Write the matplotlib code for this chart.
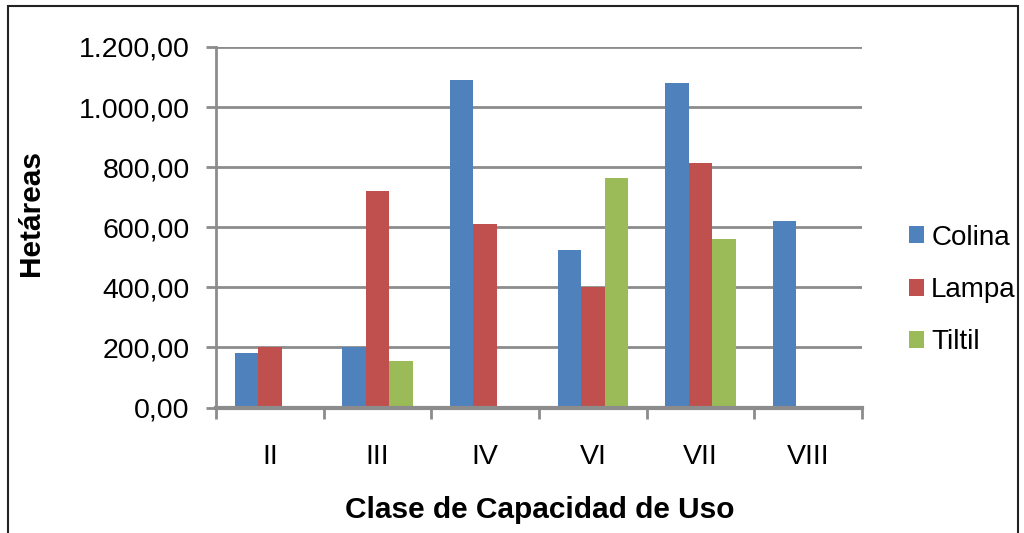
import matplotlib
matplotlib.use("Agg")
import matplotlib.pyplot as plt
from matplotlib.patches import Rectangle
from matplotlib.ticker import FuncFormatter
import numpy as np

plt.rcParams['font.family'] = ['Liberation Sans', 'DejaVu Sans']

clases = ["II", "III", "IV", "VI", "VII", "VIII"]
colina = [180, 200, 1091, 525, 1080, 622]
lampa = [200, 722, 610, 400, 815, 0]
tiltil = [0, 155, 0, 763, 560, 0]

series = [("Colina", colina, "#4F81BD"),
          ("Lampa", lampa, "#C0504D"),
          ("Tiltil", tiltil, "#9BBB59")]

grid_col = "#8c8c8c"

fig = plt.figure(figsize=(10.24, 5.33), dpi=100)
ax = fig.add_axes([216/1024, 1 - 407.5/533, (862-216)/1024, (407.5-47)/533])

x = np.arange(len(clases))
w = 0.218
for i, (name, vals, col) in enumerate(series):
    ax.bar(x + (i - 1) * w, vals, width=w, color=col, label=name, zorder=3)

ax.set_xlim(-0.5, len(clases) - 0.5)
ax.set_ylim(0, 1200)
ax.set_yticks(np.arange(0, 1201, 200))
ax.yaxis.set_major_formatter(FuncFormatter(
    lambda v, p: "{:,.2f}".format(v).replace(",", "X").replace(".", ",").replace("X", ".")))
ax.grid(axis="y", color=grid_col, linewidth=2, zorder=0)

# category boundaries as ticks, names in between
ax.set_xticks(np.arange(-0.5, len(clases)), labels=[""] * (len(clases) + 1))
ax.set_xticks(x, labels=clases, minor=True)
ax.tick_params(axis="x", which="major", length=8, width=2, color=grid_col, direction="out")
ax.tick_params(axis="x", which="minor", length=0, pad=26, labelsize=20.5)
ax.tick_params(axis="y", length=7, width=2, color=grid_col, pad=12, labelsize=20.5)

for s in ["top", "right"]:
    ax.spines[s].set_visible(False)
ax.spines["left"].set_color(grid_col)
ax.spines["left"].set_linewidth(2)
ax.spines["bottom"].set_color(grid_col)
ax.spines["bottom"].set_linewidth(3)
ax.spines["bottom"].set_zorder(4)

fig.text(540/1024, 1 - 510/533, "Clase de Capacidad de Uso", fontsize=21.5,
         fontweight="bold", ha="center", va="center")
fig.text(31/1024, 1 - 213/533, "Hetáreas", fontsize=21.5, fontweight="bold",
         rotation=90, ha="center", va="center")

fig.legend(loc="center left", bbox_to_anchor=(909/1024, 1 - 290/533),
           frameon=False, fontsize=20, handlelength=0.55, handleheight=0.55,
           handletextpad=0.25, labelspacing=0.95, borderpad=0, borderaxespad=0)

fig.patches.append(Rectangle((8/1024, -0.1), (1018-8)/1024, 1.1 - 6/533,
                             transform=fig.transFigure, fill=False,
                             edgecolor="#222222", linewidth=1.5))

fig.savefig("out.png", dpi=100)
